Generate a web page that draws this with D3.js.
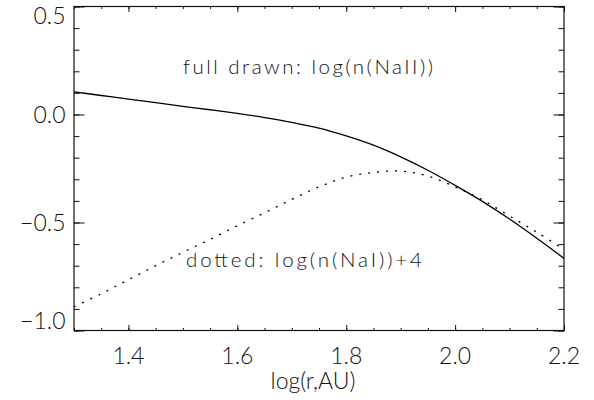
<!DOCTYPE html>
<html>
<head>
<meta charset="utf-8">
<script src="https://cdn.jsdelivr.net/npm/d3@7"></script>
<style>
  html, body { margin: 0; padding: 0; background: #fff; }
  svg { display: block; }
  text { font-family: "Lato", "Liberation Sans", sans-serif; font-weight: 300; fill: #111; }
</style>
</head>
<body>
<svg id="chart" width="594" height="400"></svg>
<script>
// ---- data ----
const xValues = [1.30, 1.35, 1.40, 1.45, 1.50, 1.55, 1.60, 1.65, 1.70, 1.75, 1.80, 1.85, 1.90, 1.95, 2.00, 2.05, 2.10, 2.15, 2.20];
const fullDrawn = [0.105, 0.088, 0.071, 0.055, 0.038, 0.022, 0.005, -0.014, -0.036, -0.063, -0.099, -0.142, -0.196, -0.258, -0.328, -0.402, -0.484, -0.573, -0.666];
const dotted = [-0.89, -0.83, -0.765, -0.70, -0.638, -0.578, -0.515, -0.455, -0.393, -0.335, -0.290, -0.268, -0.262, -0.285, -0.335, -0.395, -0.470, -0.545, -0.625];
const xTicks = [1.4, 1.6, 1.8, 2.0, 2.2];
const xTickLabels = ["1.4", "1.6", "1.8", "2.0", "2.2"];
const yTicks = [-1.0, -0.5, 0.0, 0.5];
const yTickLabels = ["\u22121.0", "\u22120.5", "0.0", "0.5"];
const xTitle = "log(r,AU)";
const labelFull = "full drawn: log(n(NaII))";
const labelDotted = "dotted: log(n(NaI))+4";

// ---- layout ----
const pLeft = 74, pRight = 564, pTop = 6.5, pBottom = 330.5;
const x = d3.scaleLinear().domain([1.3, 2.2]).range([pLeft, pRight]);
const y = d3.scaleLinear().domain([-1.0, 0.5]).range([pBottom, pTop]);

const svg = d3.select("#chart");

// minor ticks
const xMinor = d3.range(1.3, 2.2001, 0.05).map(v => +v.toFixed(2));
const yMinor = d3.range(-1.0, 0.5001, 0.1).map(v => +v.toFixed(2));

const xAxisB = d3.axisBottom(x).tickValues(xMinor).tickSize(-2.5).tickFormat("");
const xAxisT = d3.axisTop(x).tickValues(xMinor).tickSize(-2.5).tickFormat("");
const xAxisBM = d3.axisBottom(x).tickValues(xTicks).tickSize(-5.5).tickFormat("");
const xAxisTM = d3.axisTop(x).tickValues(xTicks).tickSize(-5.5).tickFormat("");
const yAxisL = d3.axisLeft(y).tickValues(yMinor).tickSize(-5.5).tickFormat("");
const yAxisR = d3.axisRight(y).tickValues(yMinor).tickSize(-5.5).tickFormat("");
const yAxisLM = d3.axisLeft(y).tickValues(yTicks).tickSize(-10.5).tickFormat("");
const yAxisRM = d3.axisRight(y).tickValues(yTicks).tickSize(-10.5).tickFormat("");

function styleAxis(g) {
  g.select(".domain").remove();
  g.selectAll(".tick line").attr("stroke", "#111").attr("stroke-width", 1);
}
svg.append("g").attr("transform", `translate(0,${pBottom})`).call(xAxisB).call(styleAxis);
svg.append("g").attr("transform", `translate(0,${pTop})`).call(xAxisT).call(styleAxis);
svg.append("g").attr("transform", `translate(0,${pBottom})`).call(xAxisBM).call(styleAxis);
svg.append("g").attr("transform", `translate(0,${pTop})`).call(xAxisTM).call(styleAxis);
svg.append("g").attr("transform", `translate(${pLeft},0)`).call(yAxisL).call(styleAxis);
svg.append("g").attr("transform", `translate(${pRight},0)`).call(yAxisR).call(styleAxis);
svg.append("g").attr("transform", `translate(${pLeft},0)`).call(yAxisLM).call(styleAxis);
svg.append("g").attr("transform", `translate(${pRight},0)`).call(yAxisRM).call(styleAxis);

// frame
svg.append("rect")
  .attr("x", pLeft).attr("y", pTop)
  .attr("width", pRight - pLeft).attr("height", pBottom - pTop)
  .attr("fill", "none").attr("stroke", "#111").attr("stroke-width", 1.2);

// tick labels
svg.append("g").selectAll("text").data(xTicks).join("text")
  .attr("x", d => x(d)).attr("y", 363.5)
  .attr("text-anchor", "middle").attr("font-size", 23)
  .text((d, i) => xTickLabels[i]);

svg.append("g").selectAll("text").data(yTicks).join("text")
  .attr("x", 65.5)
  .attr("y", d => Math.min(Math.max(y(d), 15.5), 321))
  .attr("dy", "0.36em")
  .attr("text-anchor", "end").attr("font-size", 23)
  .text((d, i) => yTickLabels[i]);

// axis title
svg.append("text")
  .attr("x", (pLeft + pRight) / 2 - 6).attr("y", 389)
  .attr("text-anchor", "middle").attr("font-size", 23)
  .text(xTitle);

// curves
const pts = (ys) => xValues.map((v, i) => [v, ys[i]]);
const line = d3.line().x(d => x(d[0])).y(d => y(d[1])).curve(d3.curveCatmullRom.alpha(0.5));

svg.append("clipPath").attr("id", "plotclip")
  .append("rect").attr("x", pLeft).attr("y", pTop).attr("width", pRight - pLeft).attr("height", pBottom - pTop);

svg.append("path").datum(pts(fullDrawn))
  .attr("d", line).attr("fill", "none")
  .attr("stroke", "#000").attr("stroke-width", 1.3)
  .attr("clip-path", "url(#plotclip)");

svg.append("path").datum(pts(dotted))
  .attr("d", line).attr("fill", "none")
  .attr("stroke", "#000").attr("stroke-width", 1.3)
  .attr("stroke-dasharray", "2,7")
  .attr("clip-path", "url(#plotclip)");

// annotations
svg.append("text")
  .attr("x", 183).attr("y", 74)
  .attr("font-size", 20.5)
  .attr("textLength", 250).attr("lengthAdjust", "spacing")
  .text(labelFull);

svg.append("text")
  .attr("x", 186).attr("y", 267)
  .attr("font-size", 20.5)
  .attr("textLength", 236).attr("lengthAdjust", "spacing")
  .text(labelDotted);
</script>
</body>
</html>
